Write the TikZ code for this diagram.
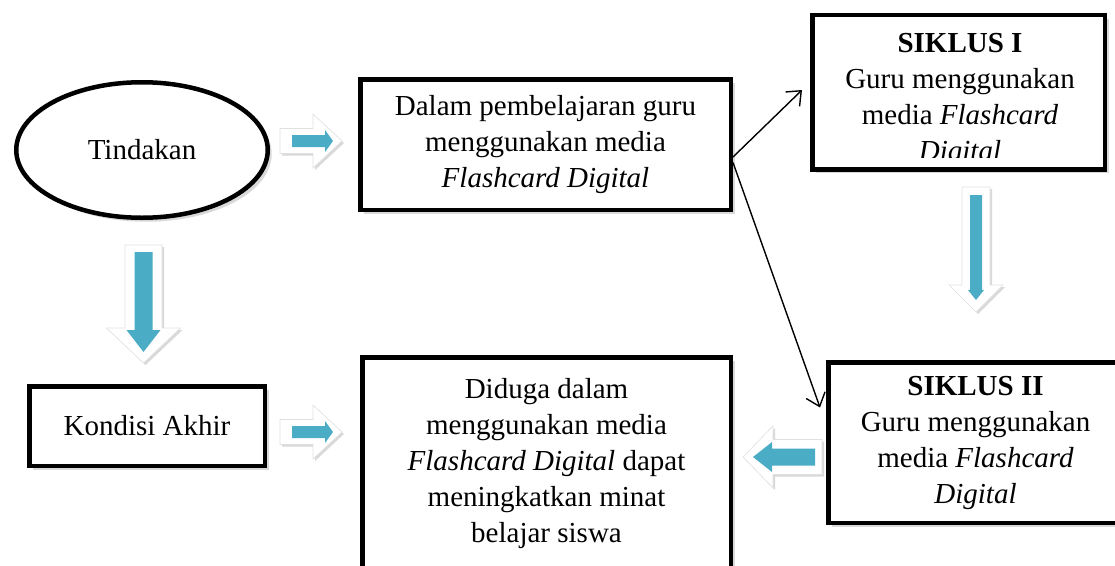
\documentclass[tikz,border=0pt]{standalone}
\usepackage{fontspec}
\setmainfont{Liberation Serif}
\usetikzlibrary{shadows,calc,arrows.meta,shapes.geometric}
\definecolor{arrblue}{HTML}{4BACC6}
% #1 style, #2 start, #3 tip, #4 shaft half, #5 head half, #6 head length
\newcommand\blkarrow[6]{\path[#1] (#2,#4) -- ({#3-#6},#4) -- ({#3-#6},#5) -- (#3,0) -- ({#3-#6},-#5) -- ({#3-#6},-#4) -- (#2,-#4) -- cycle;}
\begin{document}
\begin{tikzpicture}[x=1pt,y=-1pt,
  box/.style={draw=black, line width=4.5pt, fill=white, inner sep=0pt,
    drop shadow={opacity=0.3, shadow xshift=4pt, shadow yshift=-4pt}},
  txt/.style={align=center, font=\fontsize{29}{36}\selectfont, inner sep=0pt},
  outerarr/.style={fill=white, draw=black!12, line width=0.6pt,
    drop shadow={opacity=0.3, shadow xshift=2pt, shadow yshift=-2pt}},
  innerarr/.style={fill=arrblue},
  conn/.style={line width=1.4pt, -{Straight Barb[length=12pt,width=20pt,line width=1.4pt]}}]
\path[use as bounding box] (0,0) rectangle (1115,565);

% block arrows
\begin{scope}[shift={(0,141)}]
  \blkarrow{outerarr}{280}{342}{12.5}{27}{29}
  \blkarrow{innerarr}{292}{333}{6}{11}{8}
\end{scope}
\begin{scope}[shift={(0,432)}]
  \blkarrow{outerarr}{280}{342}{12.5}{27}{29}
  \blkarrow{innerarr}{292}{333}{6}{11}{8}
\end{scope}
\begin{scope}[shift={(143.5,0)},rotate=-90]
  \blkarrow{outerarr}{245}{363}{18.5}{37}{35}
  \blkarrow{innerarr}{252}{352}{9}{17}{22}
\end{scope}
\begin{scope}[shift={(976,0)},rotate=-90]
  \blkarrow{outerarr}{187}{312}{14}{27}{27}
  \blkarrow{innerarr}{195}{300}{6}{8}{10}
\end{scope}
\begin{scope}[shift={(1000,457)},rotate=180]
  \blkarrow{outerarr}{178}{257}{17.5}{31}{30}
  \blkarrow{innerarr}{185}{247}{8.5}{15}{19}
\end{scope}

% nodes
\node[ellipse, box, txt, minimum width=251.5, minimum height=135.5] (t) at (142,150) {Tindakan};
\node[box, txt, minimum width=370.5, minimum height=130.5] (a) at (545.5,144.5)
  {Dalam pembelajaran guru\\menggunakan media\\\textit{Flashcard Digital}};
\node[box, minimum width=292.5, minimum height=154.5] (s1) at (958.5,92) {};
\begin{scope}
  \clip (812,15) rectangle (1105,157);
  \node[txt, anchor=north] (s1t) at (960,33)
    {\textbf{SIKLUS I}\\Guru menggunakan\\media \textit{Flashcard}\\\textit{Digital}};
\end{scope}
\node[box, txt, minimum width=294.5, minimum height=160.5] (s2) at (975.5,442.5)
  {\textbf{SIKLUS II}\\Guru menggunakan\\media \textit{Flashcard}\\\textit{Digital}};
\node[box, txt, minimum width=235.5, minimum height=79.5] (k) at (147,426) {Kondisi Akhir};
\node[box, txt, minimum width=368.5, minimum height=212.5] (d) at (546.5,463.5)
  {Diduga dalam\\menggunakan media\\\textit{Flashcard Digital} dapat\\meningkatkan minat\\belajar siswa};

% connectors
\draw[conn] ($(a.east)+(0,12.5)$) -- ($(s1.west)+(-8,-2)$);
\draw[conn] ($(a.east)+(0,18)$) -- ($(s2.west)+(-6,-35)$);
\end{tikzpicture}
\end{document}
